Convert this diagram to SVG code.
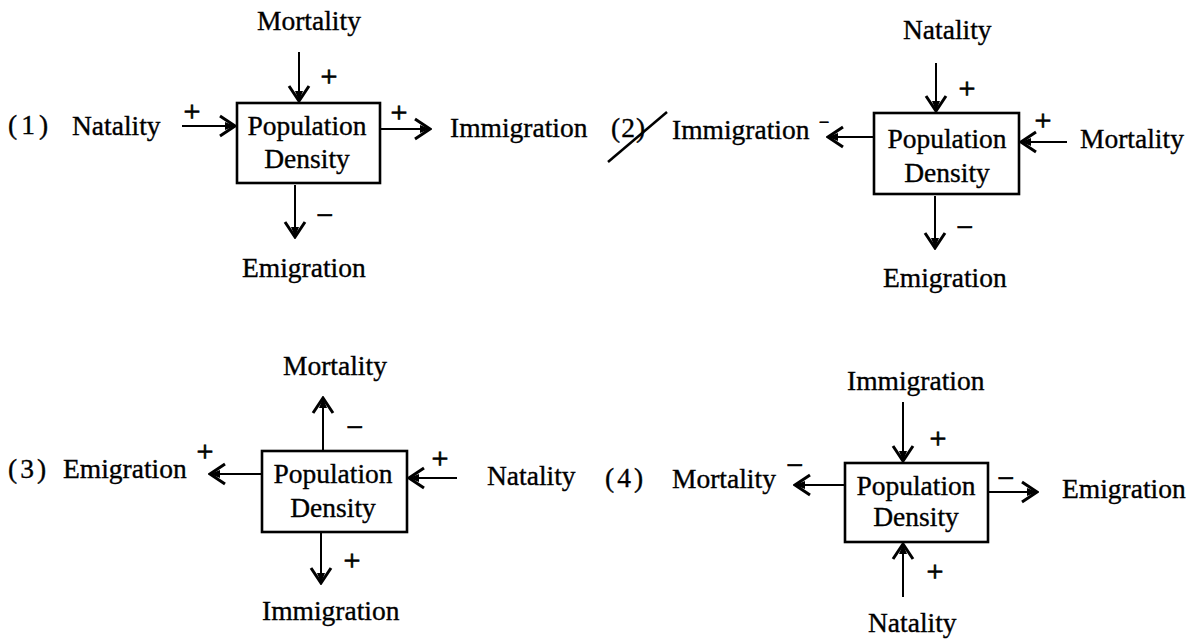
<svg xmlns="http://www.w3.org/2000/svg" width="1197" height="643" viewBox="0 0 1197 643">
  <style>
    .t { font-family: "Liberation Serif", "Times New Roman", serif; font-size: 27.5px; fill: #000; stroke: #000; stroke-width: 0.35; }
    .c { text-anchor: middle; }
    .s { font-family: "Liberation Serif", "Times New Roman", serif; font-size: 30px; fill: #000; stroke: #000; stroke-width: 0.8; text-anchor: middle; }
    .ss { font-family: "Liberation Serif", "Times New Roman", serif; font-size: 18px; fill: #000; stroke: #000; stroke-width: 0.8; text-anchor: middle; }
    .box { fill: #fff; stroke: #000; stroke-width: 2.6; }
    .ln { fill: none; stroke: #000; stroke-width: 2; marker-end: url(#ah); }
  </style>
  <defs>
    <marker id="ah" viewBox="-17 -12 19 24" markerWidth="19" markerHeight="24" refX="0" refY="0" orient="auto" markerUnits="userSpaceOnUse">
      <path d="M-15,-10 L0,0 L-15,10" fill="none" stroke="#000" stroke-width="3" stroke-linejoin="miter"/>
      <path d="M-10,-4 L0,0 L-10,4 Z" fill="#000"/>
    </marker>
  </defs>
  <rect width="1197" height="643" fill="#fff"/>

  <!-- Diagram 1 -->
  <g id="d1-label"><text class="t" x="8" y="134" letter-spacing="4">(1)</text></g>
  <g id="d1-natality"><text class="t" x="72" y="135">Natality</text></g>
  <g id="d1-mortality"><text class="t" x="257" y="30">Mortality</text></g>
  <g id="d1-emigration"><text class="t" x="242" y="277">Emigration</text></g>
  <g id="d1-immigration"><text class="t" x="450" y="137">Immigration</text></g>
  <g id="d1-box">
    <rect class="box" x="237" y="103" width="143" height="80"/>
    <text class="t c" x="307" y="135">Population</text>
    <text class="t c" x="307" y="168">Density</text>
  </g>

  <!-- Diagram 2 -->
  <g id="d2-label">
    <text class="t" x="611" y="137" letter-spacing="1">(2)</text>
    <path d="M608,162 L667,112" fill="none" stroke="#000" stroke-width="2.5"/>
  </g>
  <g id="d2-immigration"><text class="t" x="672" y="139">Immigration</text></g>
  <g id="d2-natality"><text class="t" x="903" y="39">Natality</text></g>
  <g id="d2-mortality"><text class="t" x="1080" y="148">Mortality</text></g>
  <g id="d2-emigration"><text class="t" x="883" y="287">Emigration</text></g>
  <g id="d2-box">
    <rect class="box" x="874" y="113" width="145" height="81"/>
    <text class="t c" x="947" y="148">Population</text>
    <text class="t c" x="947" y="182">Density</text>
  </g>

  <!-- Diagram 3 -->
  <g id="d3-label"><text class="t" x="8" y="478" letter-spacing="3">(3)</text></g>
  <g id="d3-emigration"><text class="t" x="63" y="478">Emigration</text></g>
  <g id="d3-mortality"><text class="t" x="283" y="375">Mortality</text></g>
  <g id="d3-immigration"><text class="t" x="262" y="620">Immigration</text></g>
  <g id="d3-natality"><text class="t" x="487" y="485">Natality</text></g>
  <g id="d3-box">
    <rect class="box" x="262" y="451" width="145" height="81"/>
    <text class="t c" x="333" y="483">Population</text>
    <text class="t c" x="333" y="517">Density</text>
  </g>

  <!-- Diagram 4 -->
  <g id="d4-label"><text class="t" x="605" y="487" letter-spacing="3">(4)</text></g>
  <g id="d4-mortality"><text class="t" x="672" y="488">Mortality</text></g>
  <g id="d4-immigration"><text class="t" x="847" y="390">Immigration</text></g>
  <g id="d4-natality"><text class="t" x="868" y="632">Natality</text></g>
  <g id="d4-emigration"><text class="t" x="1062" y="498">Emigration</text></g>
  <g id="d4-box">
    <rect class="box" x="845" y="463" width="143" height="79"/>
    <text class="t c" x="916" y="495">Population</text>
    <text class="t c" x="916" y="526">Density</text>
  </g>

  <!-- Connectors -->
  <g id="connectors">
    <!-- D1 -->
    <line class="ln" x1="182" y1="126" x2="235" y2="126"/>
    <line class="ln" x1="299" y1="52" x2="299" y2="101"/>
    <line class="ln" x1="295" y1="185" x2="295" y2="237"/>
    <line class="ln" x1="380" y1="129" x2="430" y2="129"/>
    <text class="s" x="192" y="121">+</text>
    <text class="s" x="329" y="86">+</text>
    <text class="s" x="325" y="225">−</text>
    <text class="s" x="399" y="122">+</text>
    <!-- D2 -->
    <line class="ln" x1="936" y1="63" x2="936" y2="111"/>
    <line class="ln" x1="1067" y1="142" x2="1021" y2="142"/>
    <line class="ln" x1="873" y1="137" x2="828" y2="137"/>
    <line class="ln" x1="935" y1="196" x2="935" y2="248"/>
    <text class="ss" x="824" y="128">−</text>
    <text class="s" x="967" y="98">+</text>
    <text class="s" x="1043" y="130">+</text>
    <text class="s" x="965" y="237">−</text>
    <!-- D3 -->
    <line class="ln" x1="261" y1="474" x2="210" y2="474"/>
    <line class="ln" x1="323" y1="450" x2="323" y2="398"/>
    <line class="ln" x1="321" y1="533" x2="321" y2="583"/>
    <line class="ln" x1="457" y1="478" x2="409" y2="478"/>
    <text class="s" x="205" y="461">+</text>
    <text class="s" x="355" y="437">−</text>
    <text class="s" x="352" y="570">+</text>
    <text class="s" x="440" y="468">+</text>
    <!-- D4 -->
    <line class="ln" x1="844" y1="485" x2="795" y2="485"/>
    <line class="ln" x1="903" y1="402" x2="903" y2="461"/>
    <line class="ln" x1="903" y1="597" x2="903" y2="544"/>
    <line class="ln" x1="988" y1="492" x2="1037" y2="492"/>
    <text class="s" x="795" y="475">−</text>
    <text class="s" x="938" y="448">+</text>
    <text class="s" x="935" y="581">+</text>
    <text class="s" x="1006" y="488">−</text>
  </g>
</svg>
